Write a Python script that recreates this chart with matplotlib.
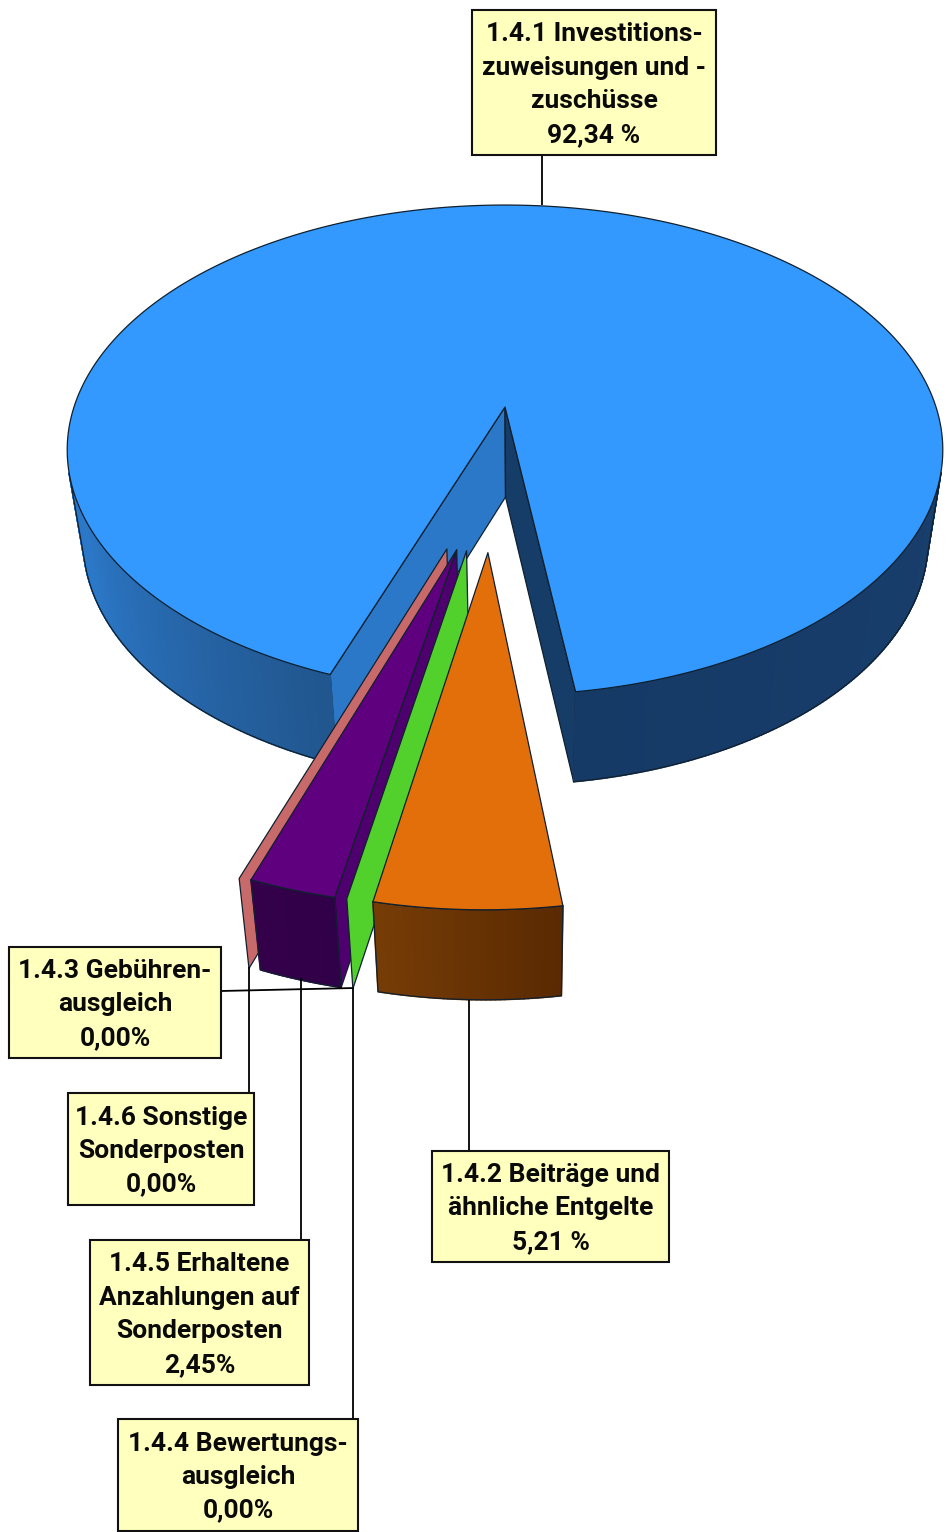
import numpy as np
import matplotlib
matplotlib.use("Agg")
import matplotlib.pyplot as plt
from matplotlib.patches import Polygon, Rectangle

# ---- data ----
categories = ["1.4.1 Investitions-\nzuweisungen und -\nzuschüsse",
              "1.4.2 Beiträge und\nähnliche Entgelte",
              "1.4.3 Gebühren-\nausgleich",
              "1.4.4 Bewertungs-\nausgleich",
              "1.4.5 Erhaltene\nAnzahlungen auf\nSonderposten",
              "1.4.6 Sonstige\nSonderposten"]
values = [92.34, 5.21, 0.00, 0.00, 2.45, 0.00]
value_labels = ["92,34 %", "5,21 %", "0,00%", "0,00%", "2,45%", "0,00%"]

# ---- style ----
START_PHI = 19.8          # degrees clockwise from the front of the pie
TOP = ["#3399ff", "#e36f0b", "#000000", "#52d02c", "#5f007f", "#c96a6a"]
LW = 0.9
EDGE = "#10202e"

plt.rcParams["font.family"] = ["Roboto", "DejaVu Sans"]
fig = plt.figure(figsize=(9.48, 15.32), dpi=100)
ax = fig.add_axes([0, 0, 1, 1])
ax.set_xlim(0, 948)
ax.set_ylim(1532, 0)
ax.axis("off")

# perspective view of the pie plane
CX, CY, A, B, K = 505.0, 407.0, 431.0, 237.4, 0.1755
DEPTH = 90.0
def project(X, Y):
    X, Y = np.asarray(X, float), np.asarray(Y, float)
    w = 1 - K * Y
    return np.column_stack([CX + A * X / w, CY + B * Y / w])
def lower(P):
    return np.column_stack([520 + 0.965 * (P[:, 0] - 520), P[:, 1] + DEPTH])
def rim(phi, apex=(0, 0), r=1.0):
    t = np.radians(phi)
    return project(apex[0] - r * np.sin(t), apex[1] + r * np.cos(t))
def apex_of(phi):
    return (-0.029 - 0.0047 * phi, 0.555 - 0.0007 * phi)

def poly(P, fc, ec=EDGE, lw=LW, z=1):
    ax.add_patch(Polygon(P, closed=True, fc=fc, ec=ec, lw=lw, zorder=z, joinstyle="round"))

def mix(c0, c1, f):
    f = min(max(f, 0.0), 1.0)
    return tuple((np.array(c0) + (np.array(c1) - np.array(c0)) * f) / 255)

def wall(apex, phi, color, z, r=1.0):
    top = np.vstack([project(*apex), rim(phi, apex, r)])
    poly(np.vstack([top, lower(top)[::-1]]), color, z=z)

def front(phis, apex, c0, c1, z, r=1.0, grad=None):
    P = rim(phis, apex, r)
    Q = lower(P)
    n = len(phis) - 1
    for i in range(n):
        f = i / max(n - 1, 1) if grad is None else grad(phis[i])
        col = mix(c0, c1, f)
        poly(np.array([P[i], P[i + 1], Q[i + 1], Q[i]]), col, ec=col, lw=1.2, z=z)
    poly(np.vstack([P, Q[::-1]]), "none", z=z + 0.1)

def outer(phis, c0, c1, z, grad=None):
    """Outer wall of the main slice, from its cut edge to the silhouette point.
    phis runs from the visible front towards the silhouette."""
    P = rim(phis)
    Q = lower(P)
    d = np.diff(P, axis=0)
    s = Q[:-1] - P[:-1]
    cross = d[:, 0] * s[:, 1] - d[:, 1] * s[:, 0]
    k = np.argmax(np.sign(cross) != np.sign(cross[0]))
    k = k if k > 0 else len(d)
    for i in range(k):
        f = i / max(k - 1, 1) if grad is None else grad(phis[i])
        col = mix(c0, c1, f)
        poly(np.array([P[i], P[i + 1], Q[i + 1], Q[i]]), col, ec=col, lw=1.2, z=z)
    ax.plot(np.r_[Q[: k + 1, 0], P[k, 0]], np.r_[Q[: k + 1, 1], P[k, 1]], color=EDGE, lw=LW, zorder=z + 0.1)

# slice angles from the values
spans = np.array(values) / sum(values) * 360.0
starts = START_PHI + np.concatenate([[0], np.cumsum(spans)[:-1]])
ends = starts + spans

# main slice
a0, a1 = starts[0], ends[0]
wall((0, 0), a0, "#2c78c8", 1)
wall((0, 0), a1, "#163c68", 1)
outer(np.linspace(a0, 140, 240), (33, 86, 142), (44, 120, 200), 2, grad=lambda p: (p - a0) / 45)
outer(np.linspace(a1, 220, 240), (22, 58, 102), (24, 62, 108), 2)
ph = np.linspace(a0, a1, 400)
poly(np.vstack([project(0, 0), rim(ph)]), TOP[0], z=3)

# exploded slices, back to front
R = 0.99
pa = apex_of(starts[5] % 360)
wall(pa, starts[5] % 360, TOP[5], 4, R)

ps = np.linspace((starts[4] % 360), (ends[4] % 360), 30)
pa4 = apex_of(starts[5] % 360 - 4.4)
wall(pa4, ps[0], "#4e006e", 5, R)
front(ps, pa4, (48, 0, 72), (52, 0, 74), 6, R)
poly(np.vstack([project(*pa4), rim(ps, pa4, R)]), TOP[4], z=7)

gphi = starts[3] % 360
ga = apex_of(gphi)
wall(ga, gphi, TOP[3], 8, R)

os_ = np.linspace(starts[1] - 360, ends[1] - 360, 40)
oa = apex_of(1.45)
front(os_, oa, (90, 42, 2), (118, 60, 6), 9, R)
poly(np.vstack([project(*oa), rim(os_, oa, R)]), TOP[1], z=10)

# labels with leader lines
boxes = [(472, 10, 716, 155), (432, 1151, 669, 1262), (9, 947, 221, 1058),
         (118, 1419, 358, 1531), (90, 1240, 309, 1385), (68, 1093, 254, 1205)]
leaders = [((542, 155), (542, 205)), ((469, 1000), (469, 1151)), ((221, 991), (354, 988)),
           ((353, 988), (353, 1419)), ((301, 978), (301, 1240)), ((249, 967), (249, 1093))]
for (p, q) in leaders:
    ax.plot([p[0], q[0]], [p[1], q[1]], color="black", lw=1.3, zorder=20, solid_capstyle="butt")
for cat, lab, (x0, y0, x1, y1) in zip(categories, value_labels, boxes):
    ax.add_patch(Rectangle((x0, y0), x1 - x0, y1 - y0, fc="#ffffbe", ec="#111111", lw=1.5, zorder=21))
    ax.text((x0 + x1) / 2, (y0 + y1) / 2 + 2, cat + "\n" + lab, ha="center", va="center",
            multialignment="center", fontsize=19, fontweight="bold", linespacing=1.5,
            color="#0a0a0a", zorder=22)

fig.savefig("out.png", dpi=100, facecolor="white")
